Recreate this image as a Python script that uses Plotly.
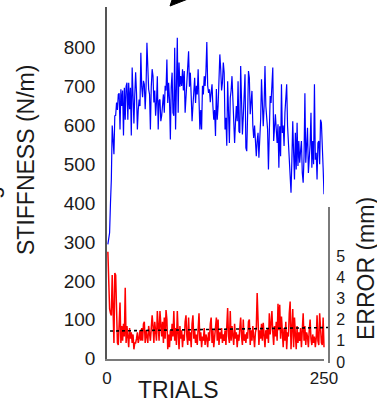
import plotly.graph_objects as go

# ---------------- data ----------------
trials = list(range(1, 251))

stiffness = [
    294, 305, 324, 400, 461, 600, 560, 526, 625, 626,
    659, 640, 680, 683, 590, 693, 650, 690, 574, 697,
    615, 701, 710, 615, 710, 642, 697, 574, 749, 667,
    605, 680, 737, 684, 590, 640, 667, 650, 787, 700,
    673, 715, 706, 642, 700, 813, 736, 693, 680, 590,
    700, 745, 727, 659, 690, 625, 660, 727, 590, 664,
    667, 611, 625, 650, 680, 633, 702, 690, 770, 658,
    710, 667, 564, 700, 736, 633, 625, 800, 590, 700,
    826, 633, 762, 700, 727, 702, 745, 690, 740, 633,
    680, 702, 740, 791, 700, 736, 676, 611, 650, 684,
    723, 658, 702, 680, 745, 667, 590, 640, 590, 702,
    680, 727, 702, 740, 815, 702, 684, 693, 660, 684,
    706, 650, 615, 640, 573, 694, 615, 650, 700, 783,
    745, 690, 710, 762, 736, 590, 620, 548, 714, 650,
    555, 671, 690, 727, 650, 600, 555, 607, 650, 611,
    714, 585, 581, 753, 640, 577, 624, 680, 732, 542,
    534, 629, 740, 723, 629, 660, 689, 600, 568, 600,
    542, 521, 560, 581, 517, 560, 615, 719, 671, 598,
    650, 753, 650, 620, 590, 487, 600, 676, 658, 700,
    749, 560, 600, 629, 590, 555, 603, 491, 598, 521,
    706, 581, 600, 547, 633, 660, 706, 600, 555, 521,
    480, 427, 512, 611, 530, 461, 581, 487, 607, 496,
    560, 504, 534, 560, 478, 453, 520, 683, 504, 560,
    594, 478, 520, 551, 633, 491, 560, 500, 706, 512,
    530, 461, 555, 560, 500, 615, 607, 560, 491, 423,
]

error_mm = [
    5.2, 3.8, 2.5, 2.3, 2.2, 4.1, 2.0, 0.9, 4.2, 4.1,
    2.5, 0.9, 0.8, 1.6, 2.8, 0.9, 1.7, 1.0, 1.8, 1.2,
    3.5, 0.9, 1.7, 1.2, 0.7, 1.6, 1.1, 1.4, 0.9, 1.3,
    0.6, 0.9, 0.9, 1.1, 1.4, 0.9, 1.1, 1.5, 1.0, 1.6,
    1.0, 1.8, 1.9, 0.9, 1.5, 1.2, 0.9, 1.7, 1.4, 1.0,
    1.6, 2.2, 1.7, 0.9, 1.9, 1.4, 1.0, 2.4, 1.5, 1.0,
    2.4, 1.5, 1.2, 1.9, 0.9, 2.1, 1.1, 2.45, 2.0, 0.6,
    1.3, 0.7, 1.5, 1.0, 1.8, 1.2, 2.4, 1.0, 1.6, 0.8,
    2.4, 1.4, 0.6, 1.7, 1.1, 1.5, 0.7, 1.3, 1.0, 1.9,
    2.2, 1.2, 0.8, 2.1, 1.0, 1.4, 0.7, 1.8, 2.2, 1.1,
    1.5, 0.9, 1.3, 0.8, 1.7, 2.3, 1.0, 1.4, 0.7, 1.2,
    1.0, 1.6, 0.8, 1.3, 1.1, 0.7, 1.4, 1.0, 1.8, 2.1,
    0.9, 1.5, 0.7, 1.3, 1.6, 2.1, 1.0, 2.0, 0.8, 1.4,
    1.1, 1.6, 0.9, 1.3, 1.0, 1.5, 0.8, 1.9, 2.55, 1.2,
    0.9, 2.4, 1.0, 1.7, 1.3, 0.8, 1.8, 1.1, 1.4, 0.7,
    1.3, 1.0, 1.6, 2.1, 1.2, 0.8, 2.0, 1.0, 1.3, 0.9,
    1.4, 1.1, 1.9, 2.0, 0.8, 1.5, 1.0, 1.7, 1.2, 0.7,
    1.4, 1.6, 3.25, 1.3, 0.8, 1.5, 1.1, 1.8, 1.0, 1.85,
    1.2, 0.7, 1.5, 1.1, 1.6, 0.9, 2.3, 1.3, 1.8, 2.4,
    1.4, 0.8, 1.7, 1.2, 1.9, 1.0, 2.75, 1.5, 2.7, 1.1,
    2.15, 1.3, 0.7, 1.6, 1.0, 1.9, 0.6, 1.4, 1.2, 2.3,
    2.85, 0.6, 1.8, 2.5, 0.7, 2.1, 1.3, 0.6, 1.7, 0.9,
    1.4, 1.0, 1.6, 0.7, 1.5, 2.3, 1.0, 1.7, 0.8, 1.4,
    1.2, 0.7, 1.5, 2.0, 1.1, 0.8, 1.3, 0.9, 1.2, 0.7,
    1.1, 2.2, 1.0, 0.8, 2.3, 1.4, 0.9, 0.8, 2.1, 0.7,
]

fit_trials = [3.5, 259]
fit_error = [1.46, 1.63]

stiff_ticks = [0, 100, 200, 300, 400, 500, 600, 700, 800]
error_ticks = [0, 1, 2, 3, 4, 5]
trial_ticks = [0, 250]

FONT = "Liberation Sans, Arial, sans-serif"
AXIS_GRAY = "#7a7a7a"
TXT = "#1a1a1a"

fig = go.Figure()

fig.add_trace(go.Scatter(
    x=trials, y=stiffness, mode="lines",
    line=dict(color="#0000ff", width=1.2),
    xaxis="x", yaxis="y", hoverinfo="skip", showlegend=False,
))
fig.add_trace(go.Scatter(
    x=trials, y=error_mm, mode="lines",
    line=dict(color="#ff0000", width=1.5),
    xaxis="x2", yaxis="y2", hoverinfo="skip", showlegend=False,
))
fig.add_trace(go.Scatter(
    x=fit_trials, y=fit_error, mode="lines",
    line=dict(color="black", width=1.6, dash="dot"),
    xaxis="x2", yaxis="y2", hoverinfo="skip", showlegend=False,
))

# plot area: x 107..332, y 7..363 (pixels)
L, R, T, B = 107, 332, 7, 363
W, H = R - L, B - T

def px(X):
    return (X - L) / W

def py(Y):
    return (B - Y) / H

# partial arrowhead at the top edge (pointing down-left)
head = [(170, 6), (174, -6), (188, -1)]
head_path = "M " + " L ".join(f"{px(a):.4f},{py(b):.4f}" for a, b in head) + " Z"

fig.update_layout(
    template="none",
    width=377, height=404,
    margin=dict(l=L, r=377 - R, t=T, b=404 - B, pad=0, autoexpand=False),
    paper_bgcolor="white", plot_bgcolor="rgba(0,0,0,0)",
    font=dict(family=FONT, color=TXT),
    xaxis=dict(
        domain=[0, (324 - L) / W], range=[0, 250], anchor="y",
        tickvals=trial_ticks, ticks="", showgrid=False, zeroline=False,
        showline=True, linecolor=AXIS_GRAY, linewidth=2, automargin=False,
        tickfont=dict(size=17, family=FONT, color=TXT),
        ticklabelstandoff=3,
    ),
    yaxis=dict(
        domain=[py(359), 1], range=[-1, 905], anchor="x",
        tickvals=stiff_ticks, ticks="", showgrid=False, zeroline=False,
        showline=True, linecolor="#555555", linewidth=1.5, automargin=False,
        tickfont=dict(size=19, family=FONT, color=TXT),
        ticklabelstandoff=6,
    ),
    xaxis2=dict(
        domain=[0, 1], range=[0, W / ((324 - L) / 250)], anchor="y2",
        visible=False, automargin=False,
    ),
    yaxis2=dict(
        domain=[0, py(207)], range=[-1 / 21.2, 155 / 21.2],
        anchor="free", position=px(329), side="right",
        tickvals=error_ticks, ticks="", showgrid=False, zeroline=False,
        showline=True, linecolor=AXIS_GRAY, linewidth=2, automargin=False,
        tickfont=dict(size=16, family=FONT, color=TXT),
        ticklabelstandoff=3,
    ),
    shapes=[
        dict(type="path", xref="paper", yref="paper", path=head_path,
             fillcolor="black", line=dict(color="black", width=1)),
    ],
    annotations=[
        dict(text="TRIALS", xref="paper", yref="paper", x=px(178.5), y=py(390),
             xanchor="center", yanchor="middle", showarrow=False,
             font=dict(size=23, family=FONT, color=TXT)),
        dict(text="STIFFNESS (N/m)", xref="paper", yref="paper", x=px(26), y=py(160),
             xanchor="center", yanchor="middle", showarrow=False, textangle=-90,
             font=dict(size=23, family=FONT, color=TXT)),
        dict(text="ERROR (mm)", xref="paper", yref="paper", x=px(366), y=py(269),
             xanchor="center", yanchor="middle", showarrow=False, textangle=-90,
             font=dict(size=23, family=FONT, color=TXT)),
        # fragment of a cut-off label at the left edge
        dict(text="g", xref="paper", yref="paper", x=px(6), y=py(193),
             xanchor="right", yanchor="middle", showarrow=False, textangle=-90,
             font=dict(size=23, family=FONT, color=TXT)),
    ],
)

fig.write_html("out.html", config={"displayModeBar": False},
               post_script="document.body.style.margin='0px';")
